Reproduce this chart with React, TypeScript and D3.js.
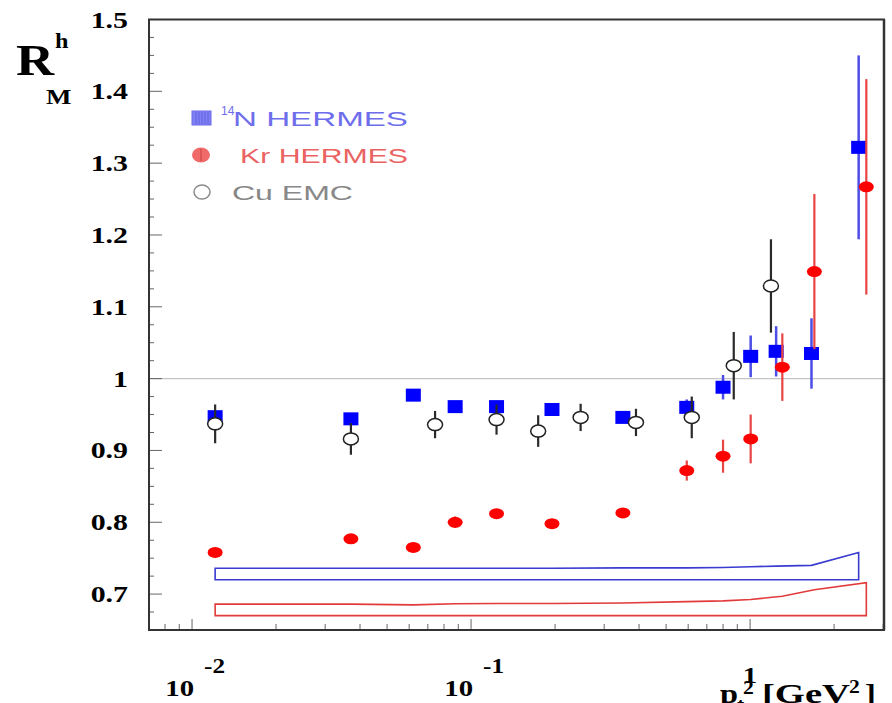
import React from 'react';
import * as d3 from 'd3';

// 14N HERMES
const blueX = [0.0121, 0.0371, 0.0621, 0.0877, 0.1234, 0.195, 0.35, 0.593, 0.8, 1.005, 1.24, 1.66, 2.45];
const blueY = [0.947, 0.944, 0.977, 0.961, 0.961, 0.957, 0.946, 0.96, 0.988, 1.031, 1.038, 1.035, 1.322];
const blueErr = [0.007, 0.006, 0.006, 0.006, 0.006, 0.006, 0.006, 0.011, 0.017, 0.029, 0.035, 0.049, 0.128];
const blueSys = [0.016, 0.016, 0.016, 0.016, 0.016, 0.016, 0.0165, 0.0165, 0.017, 0.018, 0.019, 0.02, 0.038];
const blueSysBase = 0.72;

// Kr HERMES
const redX = [0.0121, 0.0371, 0.0621, 0.0877, 0.1234, 0.195, 0.35, 0.593, 0.8, 1.005, 1.305, 1.7, 2.61];
const redY = [0.758, 0.777, 0.765, 0.8, 0.812, 0.798, 0.813, 0.872, 0.892, 0.916, 1.016, 1.149, 1.267];
const redErr = [0.005, 0.005, 0.005, 0.008, 0.006, 0.006, 0.006, 0.014, 0.023, 0.034, 0.047, 0.108, 0.15];
const redSys = [0.016, 0.016, 0.015, 0.0165, 0.017, 0.017, 0.0175, 0.0195, 0.0205, 0.0225, 0.027, 0.036, 0.046];
const redSysBase = 0.67;

// Cu EMC
const cuX = [0.0121, 0.0371, 0.0743, 0.1234, 0.174, 0.247, 0.39, 0.618, 0.874, 1.188];
const cuY = [0.937, 0.916, 0.936, 0.943, 0.927, 0.946, 0.939, 0.946, 1.018, 1.129];
const cuErr = [0.027, 0.022, 0.019, 0.021, 0.022, 0.019, 0.019, 0.029, 0.047, 0.065];

const yTickLabels = ['0.7', '0.8', '0.9', '1', '1.1', '1.2', '1.3', '1.4', '1.5'];
const xDecades = [0.01, 0.1, 1];
const xDecadeExp = ['-2', '-1', ''];
const legendLabels = ['N  HERMES', 'Kr HERMES', 'Cu  EMC'];

const W = 892;
const H = 703;
const left = 149, right = 884, top = 19.5, bottom = 630;

const x = d3.scaleLog().domain([0.00701, 3.02]).range([left, right]);
const y = d3.scaleLinear().domain([0.65, 1.5]).range([bottom, top]);

const serif = '"Liberation Serif", "DejaVu Serif", serif';
const sans = '"Liberation Sans", Arial, sans-serif';

function bandPath(xs: number[], sys: number[], base: number) {
  const pts: [number, number][] = [[x(xs[0]), y(base)]];
  xs.forEach((v, i) => pts.push([x(v), y(base + sys[i])]));
  pts.push([x(xs[xs.length - 1]), y(base)]);
  return d3.line()(pts) + 'Z';
}

export default function App() {
  const yMinor = d3.range(0, 35).map(i => 0.65 + i * 0.025).filter(v => v > 0.651 && v < 1.499);
  const xMinor: number[] = [];
  [0.001, 0.01, 0.1, 1].forEach(d => {
    for (let k = 2; k <= 9; k++) {
      const v = d * k;
      if (v > 0.00701 && v < 3.02) xMinor.push(v);
    }
  });

  return (
    <svg width={W} height={H} style={{ position: 'absolute', left: 0, top: 0, background: '#fff' }}>
      <rect x={0} y={0} width={W} height={H} fill="#fff" />

      {/* y-axis title */}
      <text transform="translate(16,75) scale(1.2,1)" fontFamily={serif} fontWeight="bold" fontSize={44}>R</text>
      <text transform="translate(55,48) scale(1.1,1)" fontFamily={serif} fontWeight="bold" fontSize={22}>h</text>
      <text transform="translate(46,104) scale(1.35,1)" fontFamily={serif} fontWeight="bold" fontSize={20}>M</text>

      {/* y tick labels */}
      {yTickLabels.map(t => (
        <text key={t} transform={`translate(128,${y(+t) + 8}) scale(1.3,1)`} textAnchor="end"
          fontFamily={serif} fontWeight="bold" fontSize={23}>{t}</text>
      ))}

      {/* x tick labels */}
      {xDecades.map((d, i) => xDecadeExp[i] ? (
        <g key={d}>
          <text transform={`translate(${x(d) + 2},696) scale(1.2,1)`} textAnchor="end"
            fontFamily={serif} fontWeight="bold" fontSize={24}>10</text>
          <text transform={`translate(${x(d) + 12},673) scale(1.2,1)`}
            fontFamily={serif} fontWeight="bold" fontSize={21}>{xDecadeExp[i]}</text>
        </g>
      ) : (
        <text key={d} transform={`translate(${x(d)},683) scale(1.2,1)`} textAnchor="middle"
          fontFamily={serif} fontWeight="bold" fontSize={24}>1</text>
      ))}

      {/* x-axis title */}
      <g fontFamily={serif} fontWeight="bold">
        <text transform="translate(720,703) scale(1.2,1)" fontSize={27}>p</text>
        <text transform="translate(737,711) scale(1.2,1)" fontSize={18}>t</text>
        <text transform="translate(743,694) scale(1.2,1)" fontSize={18}>2</text>
        <text x={762} y={703} fontSize={27} textLength={88} lengthAdjust="spacingAndGlyphs">[GeV</text>
        <text transform="translate(849,693) scale(1.2,1)" fontSize={18}>2</text>
        <text transform="translate(865,703) scale(1.2,1)" fontSize={27}>]</text>
      </g>

      {/* reference line at 1 */}
      <line x1={left} x2={right} y1={y(1)} y2={y(1)} stroke="#c4c4c4" strokeWidth={1.2} />

      {/* systematic bands */}
      <path d={bandPath(blueX, blueSys, blueSysBase)} fill="none" stroke="#3b3bd2" strokeWidth={1.6} />
      <path d={bandPath(redX, redSys, redSysBase)} fill="none" stroke="#e23a3a" strokeWidth={1.6} />

      {/* ticks */}
      {yMinor.map(v => {
        const major = Math.abs(v * 10 - Math.round(v * 10)) < 1e-6;
        return <line key={v} x1={left} x2={left + (major ? 13 : 5)} y1={y(v)} y2={y(v)} stroke="#666" strokeWidth={1} />;
      })}
      {xMinor.map(v => (
        <line key={v} x1={x(v)} x2={x(v)} y1={bottom} y2={bottom - 6} stroke="#666" strokeWidth={1} />
      ))}
      {xDecades.map(v => (
        <line key={v} x1={x(v)} x2={x(v)} y1={bottom} y2={bottom - 11} stroke="#666" strokeWidth={1} />
      ))}

      {/* frame */}
      <rect x={left} y={top} width={right - left} height={bottom - top} fill="none" stroke="#333" strokeWidth={2} />
      <line x1={right} x2={right} y1={top} y2={bottom} stroke="#333" strokeWidth={2.5} />

      {/* 14N HERMES */}
      {blueX.map((v, i) => (
        <line key={'be' + i} x1={x(v)} x2={x(v)} y1={y(blueY[i] - blueErr[i])} y2={y(blueY[i] + blueErr[i])}
          stroke="#4c4ce6" strokeWidth={2.5} />
      ))}
      {blueX.map((v, i) => (
        <rect key={'bm' + i} x={x(v) - 7.5} y={y(blueY[i]) - 6.5} width={15} height={13} fill="#0000ff" />
      ))}

      {/* Kr HERMES */}
      {redX.map((v, i) => (
        <line key={'re' + i} x1={x(v)} x2={x(v)} y1={y(redY[i] - redErr[i])} y2={y(redY[i] + redErr[i])}
          stroke="#e84444" strokeWidth={2.2} />
      ))}
      {redX.map((v, i) => (
        <ellipse key={'rm' + i} cx={x(v)} cy={y(redY[i])} rx={7.5} ry={5.5} fill="#ff0000" />
      ))}

      {/* Cu EMC */}
      {cuX.map((v, i) => (
        <line key={'ce' + i} x1={x(v)} x2={x(v)} y1={y(cuY[i] - cuErr[i])} y2={y(cuY[i] + cuErr[i])}
          stroke="#2a2a2a" strokeWidth={2.2} />
      ))}
      {cuX.map((v, i) => (
        <ellipse key={'cm' + i} cx={x(v)} cy={y(cuY[i])} rx={7.5} ry={6} fill="#fff" stroke="#222" strokeWidth={1.5} />
      ))}

      {/* legend */}
      <g>
        <rect x={192} y={111} width={19} height={14} fill="#8080f2" stroke="#6a6ae8" strokeWidth={1} />
        {d3.range(196, 210, 3).map(sx => (
          <line key={sx} x1={sx} x2={sx} y1={112} y2={124} stroke="#5c5ce0" strokeWidth={0.8} />
        ))}
        <text x={221} y={115} fontFamily={sans} fontSize={12} fill="#6e6eec">14</text>
        <text x={233} y={126} fontFamily={sans} fontSize={21} fill="#6e6eec" textLength={175} lengthAdjust="spacingAndGlyphs">{legendLabels[0]}</text>

        <ellipse cx={201} cy={155} rx={9} ry={7.5} fill="#f06a6a" />
        <line x1={201} x2={201} y1={149} y2={161} stroke="#c84040" strokeWidth={1} />
        <text x={240} y={163} fontFamily={sans} fontSize={21} fill="#ea6262" textLength={168} lengthAdjust="spacingAndGlyphs">{legendLabels[1]}</text>

        <ellipse cx={202} cy={192} rx={8} ry={7} fill="none" stroke="#8a8a8a" strokeWidth={1.5} />
        <text x={232} y={200} fontFamily={sans} fontSize={21} fill="#888" textLength={121} lengthAdjust="spacingAndGlyphs">{legendLabels[2]}</text>
      </g>
    </svg>
  );
}
